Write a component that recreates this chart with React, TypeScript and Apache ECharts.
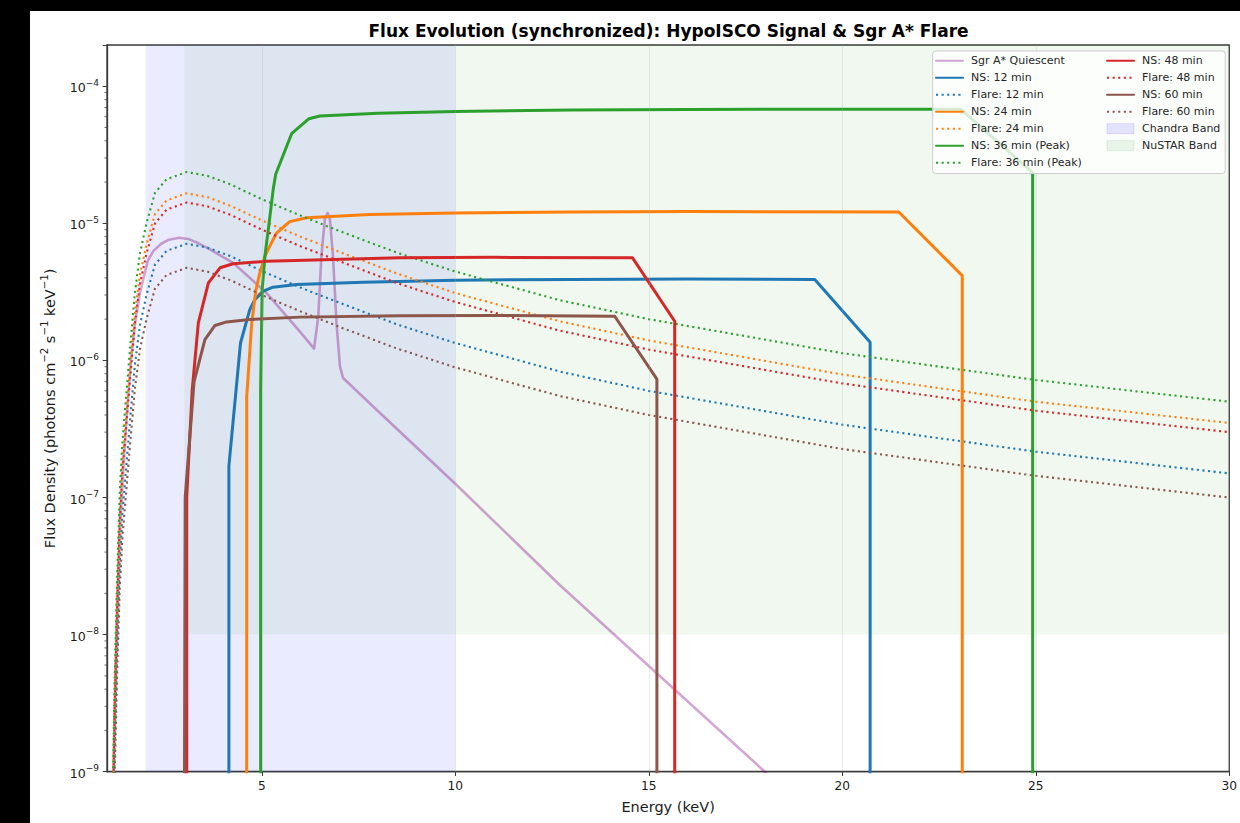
import React, { useEffect, useRef } from 'react';
import * as echarts from 'echarts';

// ---------- Data ----------
const flareEnergy = [1.15, 1.2, 1.26, 1.33, 1.4, 1.47, 1.57, 1.72, 1.85, 2.02, 2.24, 2.54, 3.06, 3.6, 4.2, 5.0, 6.0, 7.0, 8.5, 10, 12.7, 15, 20, 25, 30];
const flare12 = [2.4e-10, 1.5e-9, 7.5e-9, 3.3e-8, 7.8e-8, 1.35e-7, 3.0e-7, 9.3e-7, 1.8e-6, 3.0e-6, 5.0e-6, 6.3e-6, 7.1e-6, 6.65e-6, 5.75e-6, 4.5e-6, 3.4e-6, 2.64e-6, 1.83e-6, 1.34e-6, 8.3e-7, 6.0e-7, 3.4e-7, 2.16e-7, 1.5e-7];
const flare24 = [5.6e-10, 3.5e-9, 1.75e-8, 7.7e-8, 1.8e-7, 3.15e-7, 7.0e-7, 2.2e-6, 4.2e-6, 7.0e-6, 1.17e-5, 1.47e-5, 1.66e-5, 1.55e-5, 1.34e-5, 1.05e-5, 8.0e-6, 6.2e-6, 4.3e-6, 3.1e-6, 1.93e-6, 1.4e-6, 7.9e-7, 5.0e-7, 3.5e-7];
const flare36 = [8e-10, 5e-9, 2.5e-8, 1.1e-7, 2.6e-7, 4.5e-7, 1.0e-6, 3.1e-6, 6.0e-6, 1.0e-5, 1.67e-5, 2.1e-5, 2.37e-5, 2.22e-5, 1.92e-5, 1.5e-5, 1.14e-5, 8.8e-6, 6.1e-6, 4.45e-6, 2.75e-6, 2.0e-6, 1.13e-6, 7.2e-7, 5.0e-7];
const flare48 = [4.8e-10, 3.0e-9, 1.5e-8, 6.6e-8, 1.56e-7, 2.7e-7, 6.0e-7, 1.86e-6, 3.6e-6, 6.0e-6, 1.0e-5, 1.26e-5, 1.42e-5, 1.33e-5, 1.15e-5, 9.0e-6, 6.8e-6, 5.3e-6, 3.66e-6, 2.67e-6, 1.65e-6, 1.2e-6, 6.8e-7, 4.3e-7, 3.0e-7];
const flare60 = [1.6e-10, 1.0e-9, 5.0e-9, 2.2e-8, 5.2e-8, 9.0e-8, 2.0e-7, 6.2e-7, 1.2e-6, 2.0e-6, 3.34e-6, 4.2e-6, 4.74e-6, 4.44e-6, 3.84e-6, 3.0e-6, 2.28e-6, 1.76e-6, 1.22e-6, 8.9e-7, 5.5e-7, 4.0e-7, 2.26e-7, 1.44e-7, 1.0e-7];

const quiescentEnergy = [1.15, 1.2, 1.27, 1.35, 1.45, 1.53, 1.62, 1.73, 1.85, 2.05, 2.2, 2.4, 2.6, 2.87, 3.1, 3.3, 3.66, 4.26, 5.12, 5.98, 6.35, 6.46, 6.54, 6.63, 6.7, 6.76, 6.84, 6.93, 7.02, 7.1, 8.0, 10, 12.7, 15, 18, 19];
const quiescentFlux = [5e-10, 3e-9, 1.6e-8, 7e-8, 2.2e-7, 4.6e-7, 1.0e-6, 1.9e-6, 3.1e-6, 5.3e-6, 6.3e-6, 7.1e-6, 7.6e-6, 7.85e-6, 7.7e-6, 7.3e-6, 6.45e-6, 5.15e-6, 3.11e-6, 1.63e-6, 1.22e-6, 2.1e-6, 5.77e-6, 1.07e-5, 1.19e-5, 1.07e-5, 5.77e-6, 1.88e-6, 9.06e-7, 7.45e-7, 4.28e-7, 1.26e-7, 2.3e-8, 5.9e-9, 1.0e-9, 5.2e-10];

const ns12Energy = [4.15, 4.15, 4.45, 4.69, 4.82, 5.04, 5.29, 5.9, 7.62, 10, 13, 16, 19.29, 20.72, 20.72];
const ns12Flux = [5e-10, 1.7e-7, 1.34e-6, 2.35e-6, 2.78e-6, 3.2e-6, 3.42e-6, 3.58e-6, 3.72e-6, 3.85e-6, 3.9e-6, 3.92e-6, 3.9e-6, 1.36e-6, 5e-10];

const ns24Energy = [4.61, 4.61, 4.74, 4.85, 4.95, 5.08, 5.25, 5.38, 5.72, 6.16, 7.79, 10, 13, 16, 21.46, 23.1, 23.1];
const ns24Flux = [5e-10, 5.4e-7, 1.88e-6, 3.29e-6, 4.35e-6, 5.75e-6, 7.2e-6, 8.5e-6, 1.03e-5, 1.1e-5, 1.16e-5, 1.19e-5, 1.21e-5, 1.22e-5, 1.21e-5, 4.16e-6, 5e-10];

const ns36Energy = [4.97, 4.97, 5.01, 5.08, 5.19, 5.295, 5.36, 5.77, 6.22, 6.5, 8, 10, 13, 16, 20, 23.07, 24.92, 24.92];
const ns36Flux = [5e-10, 6.1e-7, 3.29e-6, 5.75e-6, 1.01e-5, 1.77e-5, 2.28e-5, 4.51e-5, 5.8e-5, 6.07e-5, 6.35e-5, 6.55e-5, 6.7e-5, 6.78e-5, 6.8e-5, 6.79e-5, 2.34e-5, 5e-10];

const ns48Energy = [3.06, 3.06, 3.2, 3.36, 3.62, 3.92, 4.26, 5.12, 8.57, 11, 14.58, 15.67, 15.67];
const ns48Flux = [5e-10, 1.0e-7, 6.0e-7, 1.88e-6, 3.68e-6, 4.74e-6, 5.07e-6, 5.3e-6, 5.61e-6, 5.65e-6, 5.6e-6, 1.93e-6, 5e-10];

const ns60Energy = [3.0, 3.02, 3.25, 3.53, 3.79, 4.09, 4.69, 5.98, 8.57, 11, 14.12, 15.21, 15.21];
const ns60Flux = [5e-10, 1.0e-7, 7.0e-7, 1.42e-6, 1.8e-6, 1.91e-6, 1.99e-6, 2.07e-6, 2.12e-6, 2.13e-6, 2.1e-6, 7.3e-7, 5e-10];

const chandraBand = [2, 10];
const nustarBand = [3, 30];
const nustarFloor = 1e-8;

const xTicks = [5, 10, 15, 20, 25, 30];
const xGrid = [5, 10, 15, 20, 25];
const yMajor = [1e-9, 1e-8, 1e-7, 1e-6, 1e-5, 1e-4];
const yMinor = [
  2e-9, 3e-9, 4e-9, 5e-9, 6e-9, 7e-9, 8e-9, 9e-9,
  2e-8, 3e-8, 4e-8, 5e-8, 6e-8, 7e-8, 8e-8, 9e-8,
  2e-7, 3e-7, 4e-7, 5e-7, 6e-7, 7e-7, 8e-7, 9e-7,
  2e-6, 3e-6, 4e-6, 5e-6, 6e-6, 7e-6, 8e-6, 9e-6,
  2e-5, 3e-5, 4e-5, 5e-5, 6e-5, 7e-5, 8e-5, 9e-5,
];

// ---------- Styling ----------
const FONT = 'DejaVu Sans';
const C = { blue: '#1f77b4', orange: '#ff7f0e', green: '#2ca02c', red: '#d62728', brown: '#8c564b' };
const QUIESCENT = 'rgba(128,0,128,0.35)';
const CHANDRA = 'rgba(0,0,255,0.08)';
const NUSTAR = 'rgba(0,128,0,0.06)';
const TEXT = '#1a1a1a';
const AXIS = '#3a3a3a';

const zip = (xs: number[], ys: number[]) => xs.map((x, i) => [x, ys[i]]);

function nsSeries(name: string, xs: number[], ys: number[], color: string) {
  return {
    name, type: 'line', data: zip(xs, ys), symbol: 'none', showSymbol: false, clip: true,
    lineStyle: { color, width: 3, join: 'round', cap: 'round' }, itemStyle: { color }, z: 3,
  };
}
function flareSeries(name: string, ys: number[], color: string) {
  return {
    name, type: 'line', data: zip(flareEnergy, ys), symbol: 'none', showSymbol: false, clip: true,
    lineStyle: { color, width: 2.1, type: [2.1, 3.5], cap: 'butt' }, itemStyle: { color }, z: 3,
  };
}

function buildOption() {
  const legendCommon = {
    orient: 'vertical', itemWidth: 27, itemHeight: 10, itemGap: 6, padding: 0, z: 200,
    itemStyle: { opacity: 0 },
    textStyle: { fontSize: 11, color: '#262626', fontFamily: FONT, padding: [0, 0, 0, 3] },
  };
  return {
    animation: false,
    backgroundColor: 'transparent',
    textStyle: { fontFamily: FONT },
    grid: { left: 107, right: 10, top: 45, bottom: 51.3, show: true, borderColor: AXIS, borderWidth: 1.3, backgroundColor: 'transparent' },
    graphic: [
      {
        type: 'text', x: 668.5, y: 31, z: 50,
        style: {
          text: 'Flux Evolution (synchronized): HypoISCO Signal & Sgr A* Flare',
          fontFamily: FONT, fontSize: 17, fontWeight: 'bold', fill: '#000',
          align: 'center', verticalAlign: 'middle', textAlign: 'center', textVerticalAlign: 'middle',
        },
      },
      {
        type: 'rect', z: 100,
        shape: { x: 932.7, y: 51, width: 292.5, height: 122.5, r: 3 },
        style: { fill: 'rgba(255,255,255,0.8)', stroke: '#cccccc', lineWidth: 1 },
      },
    ],
    legend: [
      {
        ...legendCommon, left: 935, top: 55.2,
        data: ['Sgr A* Quiescent', 'NS: 12 min', 'Flare: 12 min', 'NS: 24 min', 'Flare: 24 min', 'NS: 36 min (Peak)', 'Flare: 36 min (Peak)'],
      },
      {
        ...legendCommon, left: 1106, top: 55.2,
        data: [
          'NS: 48 min', 'Flare: 48 min', 'NS: 60 min', 'Flare: 60 min',
          { name: 'Chandra Band', icon: 'rect', itemStyle: { opacity: 1, color: 'rgba(0,0,255,0.1)', borderColor: 'rgba(0,0,255,0.15)', borderWidth: 0.8 } },
          { name: 'NuSTAR Band', icon: 'rect', itemStyle: { opacity: 1, color: 'rgba(0,128,0,0.08)', borderColor: 'rgba(0,128,0,0.12)', borderWidth: 0.8 } },
        ],
      },
    ],
    xAxis: {
      type: 'value', min: 1, max: 30,
      axisLine: { show: true, lineStyle: { color: AXIS, width: 1.3 } },
      axisTick: { show: true, length: 4.3, customValues: xTicks, lineStyle: { color: AXIS, width: 1 } },
      axisLabel: { customValues: xTicks, fontSize: 12.2, color: TEXT, margin: 8, fontFamily: FONT },
      splitLine: { show: false },
      name: 'Energy (keV)', nameLocation: 'middle', nameGap: 28,
      nameTextStyle: { fontSize: 14.5, color: TEXT, fontFamily: FONT },
    },
    yAxis: {
      type: 'log', logBase: 10, min: 1e-9, max: 2e-4,
      axisLine: { show: true, lineStyle: { color: AXIS, width: 1.3 } },
      axisTick: { show: true, length: 4.3, lineStyle: { color: AXIS, width: 1 } },
      axisLabel: {
        color: TEXT, margin: 8, fontFamily: FONT,
        formatter: (v: number) => {
          const l = Math.log10(v);
          const e = Math.round(l);
          if (Math.abs(l - e) > 1e-6) return '';
          return '{b|10}{s|−' + String(Math.abs(e)) + '}';
        },
        rich: {
          b: { fontSize: 12.6, color: TEXT, fontFamily: FONT, padding: [3, 0, 0, 0], verticalAlign: 'bottom' },
          s: { fontSize: 9, color: TEXT, fontFamily: FONT, verticalAlign: 'top' },
        },
      },
      splitLine: { show: false },
      name: '{n|Flux Density (photons cm}{s|−2}{n| s}{s|−1}{n| keV}{s|−1}{n|)}',
      nameLocation: 'middle', nameGap: 50,
      nameTextStyle: {
        fontSize: 14.5, color: TEXT, fontFamily: FONT,
        rich: {
          n: { fontSize: 14.5, color: TEXT, fontFamily: FONT, padding: [3, 0, 0, 0], verticalAlign: 'bottom' },
          s: { fontSize: 10.2, color: TEXT, fontFamily: FONT, verticalAlign: 'top' },
        },
      },
    },
    series: [
      {
        name: 'Chandra Band', type: 'line', data: [], z: 1, symbol: 'none', silent: true,
        itemStyle: { color: 'rgba(0,0,255,0.1)' }, lineStyle: { width: 0 },
        markArea: { silent: true, itemStyle: { color: CHANDRA }, data: [[{ xAxis: chandraBand[0] }, { xAxis: chandraBand[1] }]] },
      },
      {
        name: 'NuSTAR Band', type: 'line', data: [], z: 1, symbol: 'none', silent: true,
        itemStyle: { color: 'rgba(0,128,0,0.08)' }, lineStyle: { width: 0 },
        markArea: { silent: true, itemStyle: { color: NUSTAR }, data: [[{ xAxis: nustarBand[0], yAxis: nustarFloor }, { xAxis: nustarBand[1], yAxis: 'max' }]] },
      },
      {
        name: 'grid', type: 'line', data: [], z: 2, symbol: 'none', silent: true,
        markLine: {
          silent: true, symbol: ['none', 'none'], label: { show: false },
          data: [
            ...xGrid.map((x) => ({ xAxis: x, lineStyle: { color: 'rgba(176,176,176,0.32)', width: 0.8, type: 'solid' } })),
            ...yMajor.map((y) => ({ yAxis: y, lineStyle: { color: 'rgba(176,176,176,0.32)', width: 0.8, type: 'solid' } })),
            ...yMinor.map((y) => ({ yAxis: y, lineStyle: { color: 'rgba(176,176,176,0.22)', width: 0.6, type: 'solid' } })),
          ],
        },
      },
      {
        name: 'minorTicks', type: 'custom', silent: true, clip: false, z: 5,
        data: yMinor.map((v) => [1, v]),
        renderItem: (_p: any, api: any) => {
          const p = api.coord([api.value(0), api.value(1)]);
          return { type: 'line', shape: { x1: p[0] - 2.6, y1: p[1], x2: p[0], y2: p[1] }, style: { stroke: AXIS, lineWidth: 0.7 } };
        },
      },
      {
        name: 'Sgr A* Quiescent', type: 'line', data: zip(quiescentEnergy, quiescentFlux), symbol: 'none', showSymbol: false, clip: true,
        lineStyle: { color: QUIESCENT, width: 2.6, join: 'round', cap: 'round' }, itemStyle: { color: QUIESCENT }, z: 3,
      },
      nsSeries('NS: 12 min', ns12Energy, ns12Flux, C.blue),
      flareSeries('Flare: 12 min', flare12, C.blue),
      nsSeries('NS: 24 min', ns24Energy, ns24Flux, C.orange),
      flareSeries('Flare: 24 min', flare24, C.orange),
      nsSeries('NS: 36 min (Peak)', ns36Energy, ns36Flux, C.green),
      flareSeries('Flare: 36 min (Peak)', flare36, C.green),
      nsSeries('NS: 48 min', ns48Energy, ns48Flux, C.red),
      flareSeries('Flare: 48 min', flare48, C.red),
      nsSeries('NS: 60 min', ns60Energy, ns60Flux, C.brown),
      flareSeries('Flare: 60 min', flare60, C.brown),
    ],
  };
}

export default function App() {
  const ref = useRef<HTMLDivElement>(null);
  useEffect(() => {
    document.body.style.margin = '0';
    const chart = echarts.init(ref.current as HTMLDivElement, null, { renderer: 'svg' });
    chart.setOption(buildOption() as any);
    return () => chart.dispose();
  }, []);
  return (
    <div style={{ position: 'fixed', left: 0, top: 0, width: 1240, height: 823, background: '#000' }}>
      <div style={{ position: 'absolute', left: 30, top: 11, width: 1210, height: 812, background: '#fff' }} />
      <div ref={ref} style={{ position: 'absolute', left: 0, top: 0, width: 1240, height: 823 }} />
    </div>
  );
}
